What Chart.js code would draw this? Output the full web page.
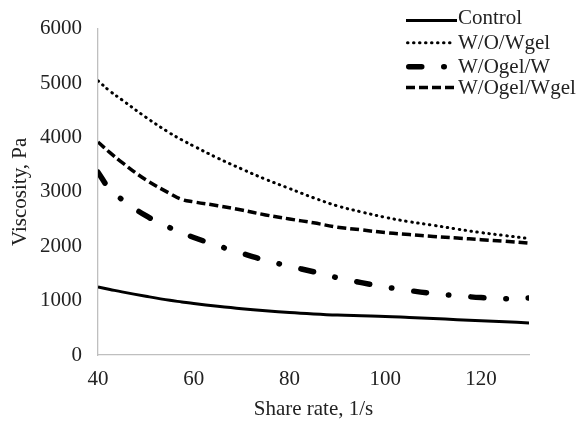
<!DOCTYPE html>
<html><head><meta charset="utf-8">
<script src="https://cdn.jsdelivr.net/npm/chart.js@4"></script>
<style>html,body{margin:0;padding:0;background:#fff}#wrap{width:580px;height:422px}</style>
</head><body><div id="wrap"><canvas id="c" width="580" height="422"></canvas></div>
<script>
const shearRate = [40,42.5,45,50,55,57.5,60,65,70,75,80,85,90,95,100,105,110,115,120,125,130];
const seriesNames = ['Control','W/O/Wgel','W/Ogel/W','W/Ogel/Wgel'];
const controlValues = [1250,1205,1160,1080,1005,975,945,895,850,812,780,755,735,722,710,690,670,650,630,610,590];
const wowgelValues = [5040,4850,4690,4370,4080,3955,3840,3620,3420,3230,3060,2890,2740,2630,2530,2450,2385,2315,2250,2195,2140];
const wogelwValues = [3360,3040,2860,2560,2340,2245,2160,2010,1870,1740,1630,1530,1420,1330,1250,1185,1130,1090,1055,1035,1050];
const wogelwgelValues = [3915,3720,3540,3220,2970,2860,2815,2745,2665,2575,2500,2430,2350,2300,2250,2215,2180,2150,2120,2090,2055];
const xTickValues = [40,60,80,100,120];
const yTickValues = [0,1000,2000,3000,4000,5000,6000];
const xTitle = 'Share rate, 1/s';
const yTitle = 'Viscosity, Pa';

const FONT = {family:'"Liberation Serif","Times New Roman",serif', size:21};
const TXT = '#222';

const toPts = arr => shearRate.map((x,i)=>({x:x, y:arr[i]}));
const styles = [
  {borderWidth:3, borderDash:[], borderCapStyle:'butt'},
  {borderWidth:3, borderDash:[0.5,5.5], borderCapStyle:'round'},
  {borderWidth:5.5, borderDash:[13,22,0.5,22], borderCapStyle:'round'},
  {borderWidth:3.5, borderDash:[9,4], borderCapStyle:'butt'}
];
const allValues = [controlValues, wowgelValues, wogelwValues, wogelwgelValues];
const datasets = seriesNames.map((n,i)=>Object.assign({
  label:n, data:toPts(allValues[i]), borderColor:'#000', backgroundColor:'#000',
  pointRadius:0, fill:false, tension:0.4, borderJoinStyle:'round'
}, styles[i]));

const legendPlugin = {
  id:'customLegend',
  afterDraw(chart){
    const ctx = chart.ctx;
    const lineY = [20.5,42.7,66.7,87.5];
    const textY = [18,43,67,88];
    chart.data.datasets.forEach((ds,i)=>{
      ctx.save();
      ctx.strokeStyle = ds.borderColor;
      ctx.lineWidth = ds.borderWidth;
      ctx.lineCap = ds.borderCapStyle;
      ctx.setLineDash(ds.borderDash);
      const cap = ds.borderCapStyle==='round' ? ds.borderWidth/2 : 0;
      ctx.beginPath();
      ctx.moveTo(406+cap, lineY[i]);
      ctx.lineTo(457-cap, lineY[i]);
      ctx.stroke();
      ctx.restore();
      ctx.save();
      ctx.font = FONT.size+'px '+FONT.family;
      ctx.fillStyle = TXT;
      ctx.textBaseline = 'middle';
      ctx.textAlign = 'left';
      ctx.fillText(ds.label, 458, textY[i]);
      ctx.restore();
    });
  }
};

new Chart(document.getElementById('c'), {
  type:'line',
  data:{datasets:datasets},
  plugins:[legendPlugin],
  options:{
    responsive:false, animation:false, devicePixelRatio:1,
    layout:{padding:{top:22,right:51,bottom:0,left:0}},
    plugins:{legend:{display:false}, tooltip:{enabled:false}},
    scales:{
      x:{type:'linear', min:40, max:130,
        grid:{display:false, drawTicks:false},
        border:{display:true, color:'#bfbfbf', width:1.3},
        ticks:{font:FONT, color:TXT, padding:12, callback:v=>String(v)},
        afterBuildTicks:s=>{s.ticks = xTickValues.map(v=>({value:v}));},
        title:{display:true, text:xTitle, font:FONT, color:TXT, padding:{top:0,bottom:0}},
        afterFit:s=>{s.height=67;}
      },
      y:{type:'linear', min:0, max:6000,
        grid:{display:false, drawTicks:false},
        border:{display:true, color:'#bfbfbf', width:1.3},
        ticks:{font:FONT, color:TXT, padding:16, callback:v=>String(v)},
        afterBuildTicks:s=>{s.ticks = yTickValues.map(v=>({value:v}));},
        title:{display:true, text:yTitle, font:FONT, color:TXT, padding:{top:8,bottom:0}},
        afterFit:s=>{s.width=98;}
      }
    }
  }
});
</script></body></html>
